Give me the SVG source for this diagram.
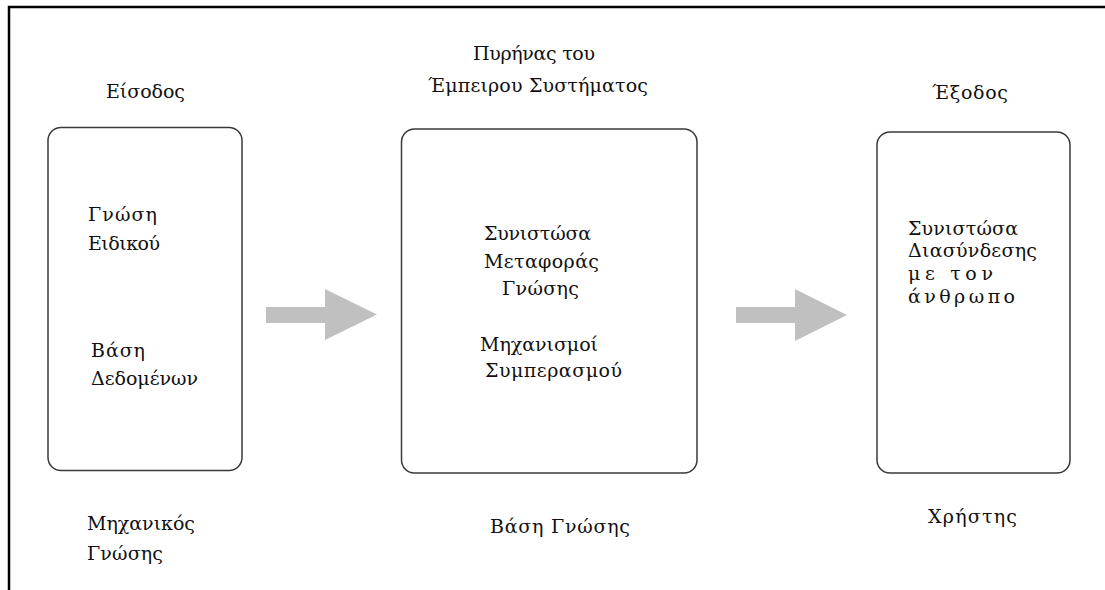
<svg xmlns="http://www.w3.org/2000/svg" width="1105" height="590" viewBox="0 0 1105 590">
<style>
.t{font-family:"DejaVu Serif","Liberation Serif",serif;font-size:19px;fill:#111}
.box{fill:#fff;stroke:#3a3a3a;stroke-width:1.5}
.arr{fill:#c0c0c0}
.frame{stroke:#000;stroke-width:2.5;fill:none}
</style>
<rect width="1105" height="590" fill="#fff"/>
<path class="frame" d="M9,590 V7 H1105"/>
<g id="input">
<text class="t" x="106" y="98" textLength="79">Είσοδος</text>
<rect class="box" x="48" y="127.5" width="194" height="343" rx="13"/>
<text class="t" x="88" y="221" textLength="69">Γνώση</text>
<text class="t" x="88" y="250" textLength="72">Ειδικού</text>
<text class="t" x="91" y="357" textLength="54">Βάση</text>
<text class="t" x="91" y="385" textLength="107">Δεδομένων</text>
<text class="t" x="87" y="530" textLength="108">Μηχανικός</text>
<text class="t" x="87" y="560" textLength="76">Γνώσης</text>
</g>
<g id="core">
<text class="t" x="473" y="60" textLength="122">Πυρήνας του</text>
<text class="t" x="428" y="92" textLength="220">Έμπειρου Συστήματος</text>
<rect class="box" x="401.5" y="129" width="295.5" height="344" rx="13"/>
<text class="t" x="484" y="240" textLength="107">Συνιστώσα</text>
<text class="t" x="484" y="268" textLength="115">Μεταφοράς</text>
<text class="t" x="502" y="295" textLength="77">Γνώσης</text>
<text class="t" x="480" y="351" textLength="118">Μηχανισμοί</text>
<text class="t" x="485" y="377" textLength="137">Συμπερασμού</text>
<text class="t" x="490" y="533" textLength="140">Βάση Γνώσης</text>
</g>
<g id="output">
<text class="t" x="932" y="99" textLength="76">Έξοδος</text>
<rect class="box" x="877" y="132" width="193" height="341" rx="13"/>
<text class="t" x="908" y="235" textLength="110">Συνιστώσα</text>
<text class="t" x="908" y="257" textLength="129">Διασύνδεσης</text>
<text class="t" x="908" y="280" textLength="85">με τον</text>
<text class="t" x="908" y="303" textLength="107">άνθρωπο</text>
<text class="t" x="928" y="523" textLength="89">Χρήστης</text>
</g>
<g id="connectors">
<path class="arr" d="M266,307 H325 V289 L377,314.5 L325,340 V323 H266 Z"/>
<path class="arr" d="M736,307 H795 V289 L847,315 L795,341 V323 H736 Z"/>
</g>
</svg>
